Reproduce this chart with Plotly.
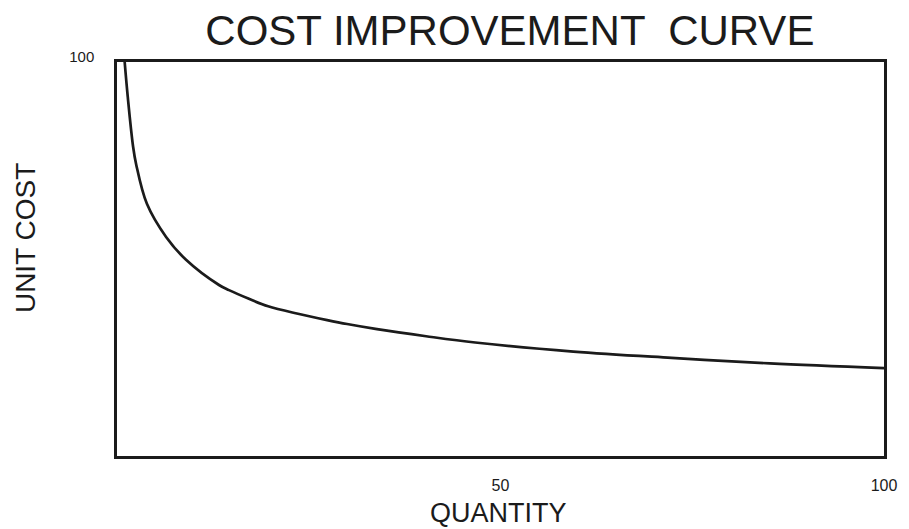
import plotly.graph_objects as go

# Values
quantity = [1, 1.4, 2.1, 2.5, 3.9, 6.4, 9.0, 13.3, 14.6, 17.2, 19.7, 23.6, 27.4,
            30.0, 33.9, 40.3, 46.7, 59.5, 72.3, 85.1, 100]
unit_cost = [100, 91.2, 78.5, 74.0, 64.0, 55.6, 49.8, 43.4, 42.1, 39.9, 38.0, 36.1, 34.5,
             33.5, 32.2, 30.4, 28.8, 26.5, 24.9, 23.5, 22.3]

x_tick_vals = [50, 100]
x_tick_text = ["50", "100"]
y_tick_vals = [100]
y_tick_text = ["100"]

title_text = "COST IMPROVEMENT  CURVE"
x_title = "QUANTITY"
y_title = "UNIT COST"

ink = "#1b1b1b"
font_family = "Liberation Sans, Arial, sans-serif"

fig = go.Figure()
fig.add_trace(go.Scatter(
    x=quantity, y=unit_cost, mode="lines",
    line=dict(color=ink, width=2.7, shape="spline", smoothing=1.0),
    hoverinfo="skip", showlegend=False,
))

# the page body adds an 8px margin, so the figure is sized 8px smaller
fig.update_layout(
    width=901, height=521,
    margin=dict(l=109, r=13, t=54, b=73),
    paper_bgcolor="white", plot_bgcolor="white",
    font=dict(family=font_family, color=ink),
    title=dict(text=title_text, x=0.557, xanchor="center", y=0.958, yanchor="middle",
               font=dict(size=42, family=font_family, color=ink)),
    xaxis=dict(range=[0, 100], showgrid=False, zeroline=False,
               showline=True, mirror=True, linecolor=ink, linewidth=2.5,
               tickvals=x_tick_vals, ticktext=x_tick_text, ticks="",
               ticklabelstandoff=13, ticklabeloverflow="allow",
               tickfont=dict(size=16, color=ink)),
    yaxis=dict(range=[0, 100], showgrid=False, zeroline=False,
               showline=True, mirror=True, linecolor=ink, linewidth=2.5,
               tickvals=y_tick_vals, ticktext=y_tick_text, ticks="",
               ticklabelstandoff=17, ticklabelshift=-5,
               tickfont=dict(size=15, color=ink)),
    annotations=[
        dict(text=x_title, xref="paper", yref="paper", x=0.497, y=-0.145,
             xanchor="center", yanchor="middle", showarrow=False,
             font=dict(size=27, color=ink, family=font_family)),
        dict(text=y_title, xref="paper", yref="paper", x=-0.12, y=0.553,
             xanchor="center", yanchor="middle", textangle=-90, showarrow=False,
             font=dict(size=28, color=ink, family=font_family)),
    ],
)

fig.write_html("out.html")
